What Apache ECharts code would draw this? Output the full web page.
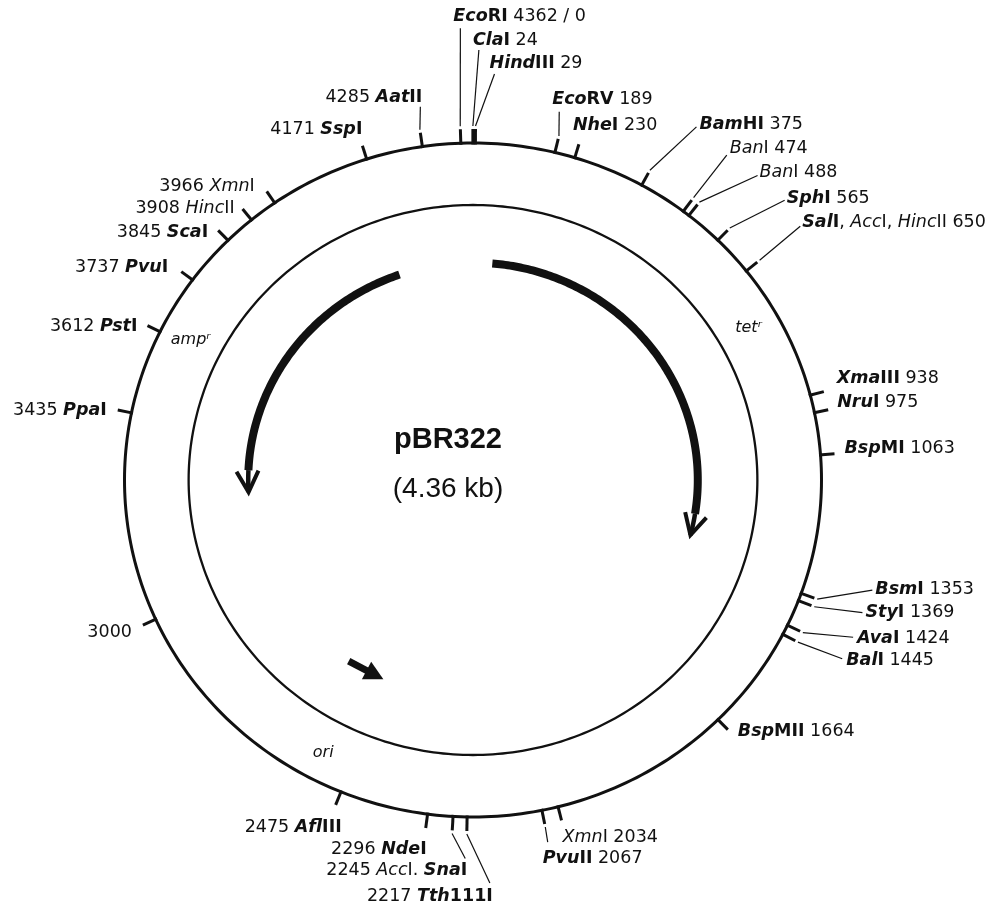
<!DOCTYPE html>
<html>
<head>
<meta charset="utf-8">
<script src="https://cdn.jsdelivr.net/npm/echarts@6/dist/echarts.min.js"></script>
<style>
  html, body { margin: 0; padding: 0; background: #fff; }
  #chart { width: 1008px; height: 911px; }
</style>
</head>
<body>
<div id="chart"></div>
<script>
// plasmid
const plasmidName = 'pBR322'
const plasmidSize = '(4.36 kb)'
const totalBp = 4362

// restriction sites (bp), '' = plain coordinate mark
const sitePos = [0, 24, 29, 189, 230, 375, 474, 488, 565, 650, 938, 975, 1063, 1353, 1369, 1424, 1445, 1664,
  2034, 2067, 2217, 2245, 2296, 2475, 3000, 3435, 3612, 3737, 3845, 3908, 3966, 4171, 4285]
const siteName = ['EcoRI', 'ClaI', 'HindIII', 'EcoRV', 'NheI', 'BamHI', 'BanI', 'BanI', 'SphI', 'SalI, AccI, HincII',
  'XmaIII', 'NruI', 'BspMI', 'BsmI', 'StyI', 'AvaI', 'BalI', 'BspMII',
  'XmnI', 'PvuII', 'Tth111I', 'AccI. SnaI', 'NdeI', 'AflIII', '', 'PpaI', 'PstI', 'PvuI', 'ScaI', 'HincII', 'XmnI', 'SspI', 'AatII']
const siteNumText = sitePos.map(p => (p === 0 ? '4362 / 0' : String(p)))
// enzymes cutting more than once are set in light type
const multiCutters = ['BanI', 'XmnI', 'HincII', 'AccI']

// genes
const geneName = ['tetʳ', 'ampʳ']
const geneStart = [84, 4155]
const geneEnd = [1293, 3257]
const geneLabelPos = [755, 3624]

const oriName = 'ori'
const oriArrow = [2612, 2490]
const oriLabelPos = 2544

// label layout: offset from tick end (px), anchor side, leader end (px from tick end)
const labelOffset = [[-7, -113], [0, -89], [14, -66], [-6, -39], [-6, -19], [51, -48], [38, -52], [62, -32], [59, -32], [45, -40],
  [13, -13], [9, -7], [10, -5], [61, -9], [54, 7], [57, 7], [51, 20], [10, 2],
  [1, 17], [-2, 34], [26, 66], [15, 40], [1, 21], [6, 23], [-11, 7], [-11, 0], [-10, 1], [-13, -4], [-10, 2], [-8, -1], [-12, -5], [0, -16], [2, -35]]
const labelAlign = ['left', 'left', 'left', 'left', 'left', 'left', 'left', 'left', 'left', 'left',
  'left', 'left', 'left', 'left', 'left', 'left', 'left', 'left',
  'left', 'left', 'right', 'right', 'right', 'right', 'right', 'right', 'right', 'right', 'right', 'right', 'right', 'right', 'right']
const leaderEnd = [[0, -101], [6, -79], [19, -55], [1, -27], null, [48, -46], [35, -45], [60, -29], [57, -30], [43, -36],
  null, null, null, [58, -8], [51, 7], [53, 6], [47, 18], null,
  null, [3, 18], [23, 52], [13, 28], null, null, null, null, null, null, null, null, null, null, [0, -26]]

const ROT = -2.0
const TICK = 14
const INK = '#111'
const FONT = 'DejaVu Sans'
const FS = 17.5

const rich = {
  bi: { fontFamily: FONT, fontSize: FS, fontWeight: 'bold', fontStyle: 'italic', fill: INK },
  b: { fontFamily: FONT, fontSize: FS, fontWeight: 'bold', fill: INK },
  i: { fontFamily: FONT, fontSize: FS, fontStyle: 'italic', fill: INK },
  r: { fontFamily: FONT, fontSize: FS, fill: INK }
}

function ang(bp) {
  return (bp / totalBp * 360 + ROT) * Math.PI / 180
}

function polar(api, bp, r) {
  const a = ang(bp)
  return api.coord([r * Math.sin(a), r * Math.cos(a)])
}

function richName(name) {
  return name.split(/(, |\. )/).map(part => {
    if (part === ', ' || part === '. ') return '{r|' + part + '}'
    const pre = /^[A-Z][a-z]+/.exec(part)[0]
    const light = multiCutters.indexOf(part) >= 0
    return '{' + (light ? 'i' : 'bi') + '|' + pre + '}{' + (light ? 'r' : 'b') + '|' + part.slice(pre.length) + '}'
  }).join('')
}

function siteItem(params, api) {
  const i = params.dataIndex
  const a = ang(api.value(2))
  const dx = Math.sin(a)
  const dy = -Math.cos(a)
  const p = api.coord([Math.sin(a), Math.cos(a)])
  const t = [p[0] + TICK * dx, p[1] + TICK * dy]
  const children = [{
    type: 'line',
    shape: { x1: p[0] - 1.5 * dx, y1: p[1] - 1.5 * dy, x2: t[0], y2: t[1] },
    style: { stroke: INK, lineWidth: 3 }
  }]
  const le = leaderEnd[i]
  if (le) {
    children.push({
      type: 'line',
      shape: { x1: t[0] + 3 * dx, y1: t[1] + 3 * dy, x2: t[0] + le[0], y2: t[1] + le[1] },
      style: { stroke: INK, lineWidth: 1.2 }
    })
  }
  const name = siteName[i]
  const num = '{r|' + siteNumText[i] + '}'
  let text = num
  if (name) {
    text = labelAlign[i] === 'left' ? richName(name) + '{r| }' + num : num + '{r| }' + richName(name)
  }
  children.push({
    type: 'text',
    x: t[0] + labelOffset[i][0],
    y: t[1] + labelOffset[i][1],
    style: { text: text, rich: rich, align: labelAlign[i], verticalAlign: 'middle', fill: INK }
  })
  return { type: 'group', children: children }
}

function backboneItem(params, api) {
  const ring = r => {
    const pts = []
    for (let k = 0; k <= 360; k++) pts.push(polar(api, totalBp * k / 360, r))
    return pts
  }
  const c = api.coord([0, 0])
  return {
    type: 'group',
    children: [
      { type: 'polyline', shape: { points: ring(1) }, style: { stroke: INK, lineWidth: 3, fill: 'none' } },
      { type: 'polyline', shape: { points: ring(0.816) }, style: { stroke: INK, lineWidth: 2.3, fill: 'none' } },
      {
        type: 'text', x: c[0] - 25, y: c[1] - 40,
        style: { text: plasmidName, font: 'bold 29px "Liberation Sans"', fill: INK, align: 'center', verticalAlign: 'middle' }
      },
      {
        type: 'text', x: c[0] - 25, y: c[1] + 9,
        style: { text: plasmidSize, font: '28px "Liberation Sans"', fill: INK, align: 'center', verticalAlign: 'middle' }
      }
    ]
  }
}

function geneItem(params, api) {
  const i = params.dataIndex
  const s = geneStart[i]
  const e = geneEnd[i]
  const R = 0.645
  const sgn = e > s ? 1 : -1
  const neck = e - sgn * 70
  const body = []
  const n = Math.ceil(Math.abs(neck - s) / 8)
  for (let k = 0; k <= n; k++) body.push(polar(api, s + (neck - s) * k / n, R))
  const thin = []
  for (let k = 0; k <= 10; k++) thin.push(polar(api, neck + (e - neck) * k / 10, R))
  const tip = thin[thin.length - 1]
  const prev = polar(api, e - sgn * 8, R)
  let tx = tip[0] - prev[0]
  let ty = tip[1] - prev[1]
  const len = Math.hypot(tx, ty)
  tx /= len
  ty /= len
  const nx = -ty
  const ny = tx
  const w1 = [tip[0] - 21 * tx + 11 * nx, tip[1] - 21 * ty + 11 * ny]
  const w2 = [tip[0] - 21 * tx - 11 * nx, tip[1] - 21 * ty - 11 * ny]
  const lp = polar(api, geneLabelPos[i], 0.91)
  return {
    type: 'group',
    children: [
      { type: 'polyline', shape: { points: body }, style: { stroke: INK, lineWidth: 8, fill: 'none', lineCap: 'butt' } },
      { type: 'polyline', shape: { points: thin }, style: { stroke: INK, lineWidth: 4.5, fill: 'none' } },
      { type: 'polyline', shape: { points: [w1, tip, w2] }, style: { stroke: INK, lineWidth: 4, fill: 'none', lineJoin: 'miter' } },
      {
        type: 'text', x: lp[0], y: lp[1],
        style: { text: geneName[i], font: 'italic 16px "DejaVu Sans"', fill: INK, align: 'center', verticalAlign: 'middle' }
      }
    ]
  }
}

function oriItem(params, api) {
  const A = polar(api, oriArrow[0], 0.645)
  const B = polar(api, oriArrow[1], 0.645)
  let tx = B[0] - A[0]
  let ty = B[1] - A[1]
  const len = Math.hypot(tx, ty)
  tx /= len
  ty /= len
  const nx = -ty
  const ny = tx
  const lp = polar(api, oriLabelPos, 0.917)
  return {
    type: 'group',
    children: [
      { type: 'line', shape: { x1: A[0], y1: A[1], x2: B[0] - 12 * tx, y2: B[1] - 12 * ty }, style: { stroke: INK, lineWidth: 7 } },
      {
        type: 'polygon',
        shape: { points: [B, [B[0] - 19 * tx + 10 * nx, B[1] - 19 * ty + 10 * ny], [B[0] - 19 * tx - 10 * nx, B[1] - 19 * ty - 10 * ny]] },
        style: { fill: INK }
      },
      {
        type: 'text', x: lp[0], y: lp[1],
        style: { text: oriName, font: 'italic 16px "DejaVu Sans"', fill: INK, align: 'center', verticalAlign: 'middle' }
      }
    ]
  }
}

const chart = echarts.init(document.getElementById('chart'))
chart.setOption({
  backgroundColor: '#fff',
  animation: false,
  grid: { left: 124.5, right: 186.5, top: 143, bottom: 94 },
  xAxis: { type: 'value', min: -1, max: 1, show: false },
  yAxis: { type: 'value', min: -1, max: 1, show: false },
  series: [
    { type: 'custom', clip: false, silent: true, renderItem: backboneItem, data: [[0, 0, 0]], encode: { x: 0, y: 1 } },
    { type: 'custom', clip: false, silent: true, renderItem: geneItem, data: geneStart.map(s => [0, 0, s]), encode: { x: 0, y: 1 } },
    { type: 'custom', clip: false, silent: true, renderItem: oriItem, data: [[0, 0, oriArrow[0]]], encode: { x: 0, y: 1 } },
    { type: 'custom', clip: false, silent: true, renderItem: siteItem, data: sitePos.map(p => [0, 0, p]), encode: { x: 0, y: 1 } }
  ]
})
</script>
</body>
</html>
